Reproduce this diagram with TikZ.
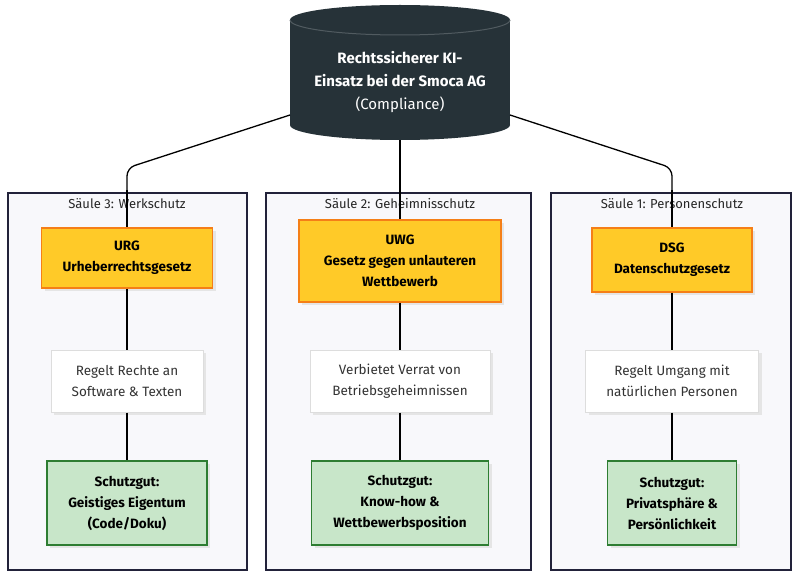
\documentclass[tikz,border=0pt]{standalone}
\usepackage{fontspec}
\setmainfont{Fira Sans}
\usetikzlibrary{shadows}
\definecolor{cyl}{HTML}{263238}
\definecolor{clfill}{HTML}{F8F8FB}
\definecolor{clline}{HTML}{22223A}
\definecolor{yfill}{HTML}{FFCA28}
\definecolor{yline}{HTML}{F57F17}
\definecolor{gfill}{HTML}{C8E6C9}
\definecolor{gline}{HTML}{2E7D32}
\definecolor{wline}{HTML}{DDDDDD}
\definecolor{txt}{HTML}{333333}
\begin{document}
\begin{tikzpicture}[x=1pt,y=-1pt,
  cluster/.style={draw=clline,fill=clfill,line width=1.2pt},
  sh/.style={drop shadow={shadow xshift=3pt,shadow yshift=-3pt,fill=black!10,opacity=1}},
  law/.style={draw=yline,fill=yfill,line width=1.2pt,sh,align=center,inner sep=0pt,font=\fontsize{13.5}{21}\selectfont\bfseries},
  desc/.style={draw=wline,fill=white,line width=1pt,sh,align=center,inner sep=0pt,text=txt,font=\fontsize{13.5}{21}\selectfont},
  good/.style={draw=gline,fill=gfill,line width=1.2pt,sh,align=center,inner sep=0pt,font=\fontsize{13.5}{21}\selectfont\bfseries},
  link/.style={draw=black,line width=1.3pt},
  cltitle/.style={font=\fontsize{13}{15}\selectfont,text=black!85}]
\useasboundingbox (0,0) rectangle (800,577);
% clusters
\draw[cluster] (8,193) rectangle (247,570);
\draw[cluster] (266,193) rectangle (531,570);
\draw[cluster] (551,193) rectangle (791,570);
% cylinder
\fill[cyl] (290,20) rectangle (510,125);
\fill[cyl] (400,20) ellipse[x radius=110,y radius=15];
\fill[cyl] (400,125) ellipse[x radius=110,y radius=15];
\draw[cyl!80!white,line width=1pt] (290,20) arc[x radius=110,y radius=15,start angle=180,end angle=0];
\node[text=white,align=center,font=\fontsize{15}{23}\selectfont] (top) at (400,82)
  {\bfseries Rechtssicherer KI-\\\bfseries Einsatz bei der Smoca AG\\(Compliance)};
\coordinate (cl) at (290,115);
\coordinate (cr) at (510,115);
\coordinate (cb) at (400,140);
% connectors
\draw[link,rounded corners=8] (cl) -- (127,168) -- (127,228);
\draw[link] (cb) -- (400,220);
\draw[link,rounded corners=8] (cr) -- (672,168) -- (672,228);
% cluster titles
\node[cltitle] (t1) at (127,204) {Säule 3: Werkschutz};
\node[cltitle] (t2) at (400,204) {Säule 2: Geheimnisschutz};
\node[cltitle] (t3) at (672,204) {Säule 1: Personenschutz};
\draw[link] (127,190) -- (127,228);
\draw[link] (400,190) -- (400,220);
\draw[link] (672,190) -- (672,228);
% nodes
\node[law,minimum width=171,minimum height=60] (urg) at (127,258) {URG\\Urheberrechtsgesetz};
\node[law,minimum width=202,minimum height=82] (uwg) at (400,261) {UWG\\Gesetz gegen unlauteren\\Wettbewerb};
\node[law,minimum width=160,minimum height=64] (dsg) at (672,260) {DSG\\Datenschutzgesetz};
\node[desc,minimum width=152,minimum height=62] (d1) at (127,381) {Regelt Rechte an\\Software \& Texten};
\node[desc,minimum width=180,minimum height=62] (d2) at (400,381) {Verbietet Verrat von\\Betriebsgeheimnissen};
\node[desc,minimum width=173,minimum height=62] (d3) at (672,381) {Regelt Umgang mit\\natürlichen Personen};
\node[good,minimum width=160,minimum height=84] (g1) at (127,503) {Schutzgut:\\Geistiges Eigentum\\(Code/Doku)};
\node[good,minimum width=177,minimum height=84] (g2) at (400,503) {Schutzgut:\\Know-how \&\\Wettbewerbsposition};
\node[good,minimum width=129,minimum height=84] (g3) at (672,503) {Schutzgut:\\Privatsphäre \&\\Persönlichkeit};
\draw[link] (urg) -- (d1); \draw[link] (d1) -- (g1);
\draw[link] (uwg) -- (d2); \draw[link] (d2) -- (g2);
\draw[link] (dsg) -- (d3); \draw[link] (d3) -- (g3);
\end{tikzpicture}
\end{document}
